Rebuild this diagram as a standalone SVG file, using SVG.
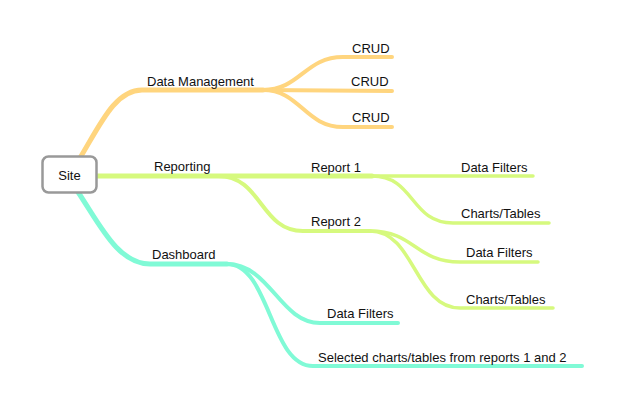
<svg xmlns="http://www.w3.org/2000/svg" width="622" height="410" viewBox="0 0 622 410">
<style>
  text { font-family: "Liberation Sans", Arial, sans-serif; font-size: 13px; fill: #111; }
  .c { fill: none; stroke-linecap: round; stroke-linejoin: round; }
  .o { stroke: #FFD57E; }
  .g { stroke: #D6F97E; }
  .t { stroke: #80FAD6; }
  .w5 { stroke-width: 5; }
  .w4 { stroke-width: 4; }
  .w3 { stroke-width: 3.5; }
</style>
<rect width="622" height="410" fill="#ffffff"/>
<g id="connectors">
  <path class="c o w5" d="M 80 158 C 100 125, 115 90, 142 90 L 263 90"/>
  <path class="c o w4" d="M 263 90 C 300 90, 305 57, 343 57 L 392 57"/>
  <path class="c o w4" d="M 263 90 L 392 91"/>
  <path class="c o w4" d="M 263 90 C 300 90, 305 127, 343 127 L 392 127"/>
  <path class="c g w5" d="M 97 176 L 372 176"/>
  <path class="c g w3" d="M 372 176 L 533 176"/>
  <path class="c g w4" d="M 218 176 C 262 176, 260 231, 303 231 L 370 231"/>
  <path class="c g w3" d="M 372 176 C 415 176, 410 223, 453 223 L 549 223"/>
  <path class="c g w3" d="M 370 231 C 415 231, 415 262, 460 262 L 538 262"/>
  <path class="c g w3" d="M 370 231 C 415 231, 415 308, 460 308 L 553 308"/>
  <path class="c t w5" d="M 78 192 C 100 225, 118 264, 150 264 L 227 264"/>
  <path class="c t w4" d="M 227 264 C 270 264, 280 323, 320 323 L 398 323"/>
  <path class="c t w4" d="M 227 264 C 270 264, 270 366, 313 366 L 582 366"/>
</g>
<g id="site">
  <rect x="42.5" y="156.5" width="54" height="36" rx="6" fill="#ffffff" stroke="#999999" stroke-width="2.5"/>
  <text x="69.5" y="180" text-anchor="middle">Site</text>
</g>
<g id="data-management"><text x="147" y="86">Data Management</text></g>
<g id="crud-1"><text x="352" y="53">CRUD</text></g>
<g id="crud-2"><text x="351" y="86">CRUD</text></g>
<g id="crud-3"><text x="352" y="122">CRUD</text></g>
<g id="reporting"><text x="154" y="171">Reporting</text></g>
<g id="report-1"><text x="311" y="172">Report 1</text></g>
<g id="report-2"><text x="311" y="226">Report 2</text></g>
<g id="r1-data-filters"><text x="461" y="172">Data Filters</text></g>
<g id="r1-charts-tables"><text x="461" y="218">Charts/Tables</text></g>
<g id="r2-data-filters"><text x="466" y="257">Data Filters</text></g>
<g id="r2-charts-tables"><text x="466" y="304">Charts/Tables</text></g>
<g id="dashboard"><text x="152" y="259">Dashboard</text></g>
<g id="d-data-filters"><text x="327" y="318">Data Filters</text></g>
<g id="d-selected"><text x="318" y="362">Selected charts/tables from reports 1 and 2</text></g>
</svg>
